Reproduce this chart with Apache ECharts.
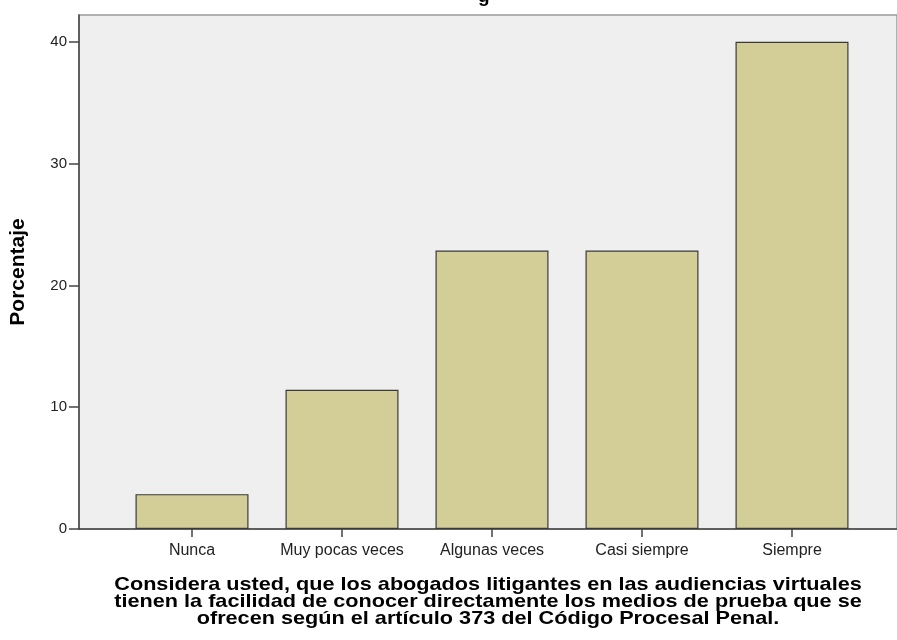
<!DOCTYPE html>
<html>
<head>
<meta charset="utf-8">
<script src="https://cdn.jsdelivr.net/npm/echarts@6/dist/echarts.min.js"></script>
<style>
html,body{margin:0;padding:0;background:#fff;}
#chart{width:897px;height:640px;}
</style>
</head>
<body>
<div id="chart"></div>
<script>
const categories = ['Nunca', 'Muy pocas veces', 'Algunas veces', 'Casi siempre', 'Siempre'];
const porcentajes = [2.86, 11.43, 22.86, 22.86, 40.0];
const yTicks = [0, 10, 20, 30, 40];
const yName = 'Porcentaje';
const xTitle = 'Considera usted, que los abogados litigantes en las audiencias virtuales\ntienen la facilidad de conocer directamente los medios de prueba que se\nofrecen según el artículo 373 del Código Procesal Penal.';

const Y_MAX = 42.2;
const chart = echarts.init(document.getElementById('chart'), null, {renderer: 'canvas'});
chart.setOption({
  animation: false,
  backgroundColor: '#ffffff',
  graphic: [{
    type: 'text',
    x: 488,
    y: 576,
    scaleX: 1.14,
    style: {
      text: xTitle,
      font: 'bold 19px "Liberation Sans"',
      lineHeight: 17,
      align: 'center',
      verticalAlign: 'top',
      fill: '#000'
    }
  }, {
    type: 'text',
    left: 478,
    top: -13,
    style: {text: 'g', font: 'bold 19px "Liberation Sans"', fill: '#000'}
  }],
  grid: [
    {left: 76, right: -2, top: 15, bottom: 111, show: true, backgroundColor: '#efefef', borderColor: '#9a9a9a', borderWidth: 1.5},
    {left: 117, right: 30, top: 15, bottom: 111}
  ],
  xAxis: [
    {
      gridIndex: 0, type: 'value', min: 0, max: 1,
      axisLine: {show: true, onZero: false, lineStyle: {color: '#444', width: 1.5}},
      axisTick: {show: false}, axisLabel: {show: false}, splitLine: {show: false}
    },
    {
      gridIndex: 1, type: 'category', data: categories,
      axisLine: {show: false},
      axisTick: {show: true, alignWithLabel: true, length: 8, interval: 0, lineStyle: {color: '#444', width: 1.5}},
      axisLabel: {fontFamily: 'Liberation Sans', fontSize: 16, color: '#222', margin: 14, interval: 0}
    }
  ],
  yAxis: [
    {
      gridIndex: 0, type: 'value', min: 0, max: Y_MAX, interval: 10,
      name: yName, nameLocation: 'middle', nameGap: 50,
      nameTextStyle: {fontFamily: 'Liberation Sans', fontWeight: 'bold', fontSize: 21, color: '#000'},
      axisLine: {show: true, lineStyle: {color: '#444', width: 1.5}},
      axisTick: {show: true, length: 10, customValues: yTicks, lineStyle: {color: '#444', width: 1.5}},
      axisLabel: {fontFamily: 'Liberation Sans', fontSize: 15, color: '#222', margin: 12, customValues: yTicks},
      splitLine: {show: false}
    },
    {
      gridIndex: 1, type: 'value', min: 0, max: Y_MAX, show: false
    }
  ],
  series: [{
    type: 'bar',
    xAxisIndex: 1, yAxisIndex: 1,
    data: porcentajes,
    barWidth: 113,
    itemStyle: {color: '#d3ce98', borderColor: '#3a3a3a', borderWidth: 1.2}
  }]
});
</script>
</body>
</html>
